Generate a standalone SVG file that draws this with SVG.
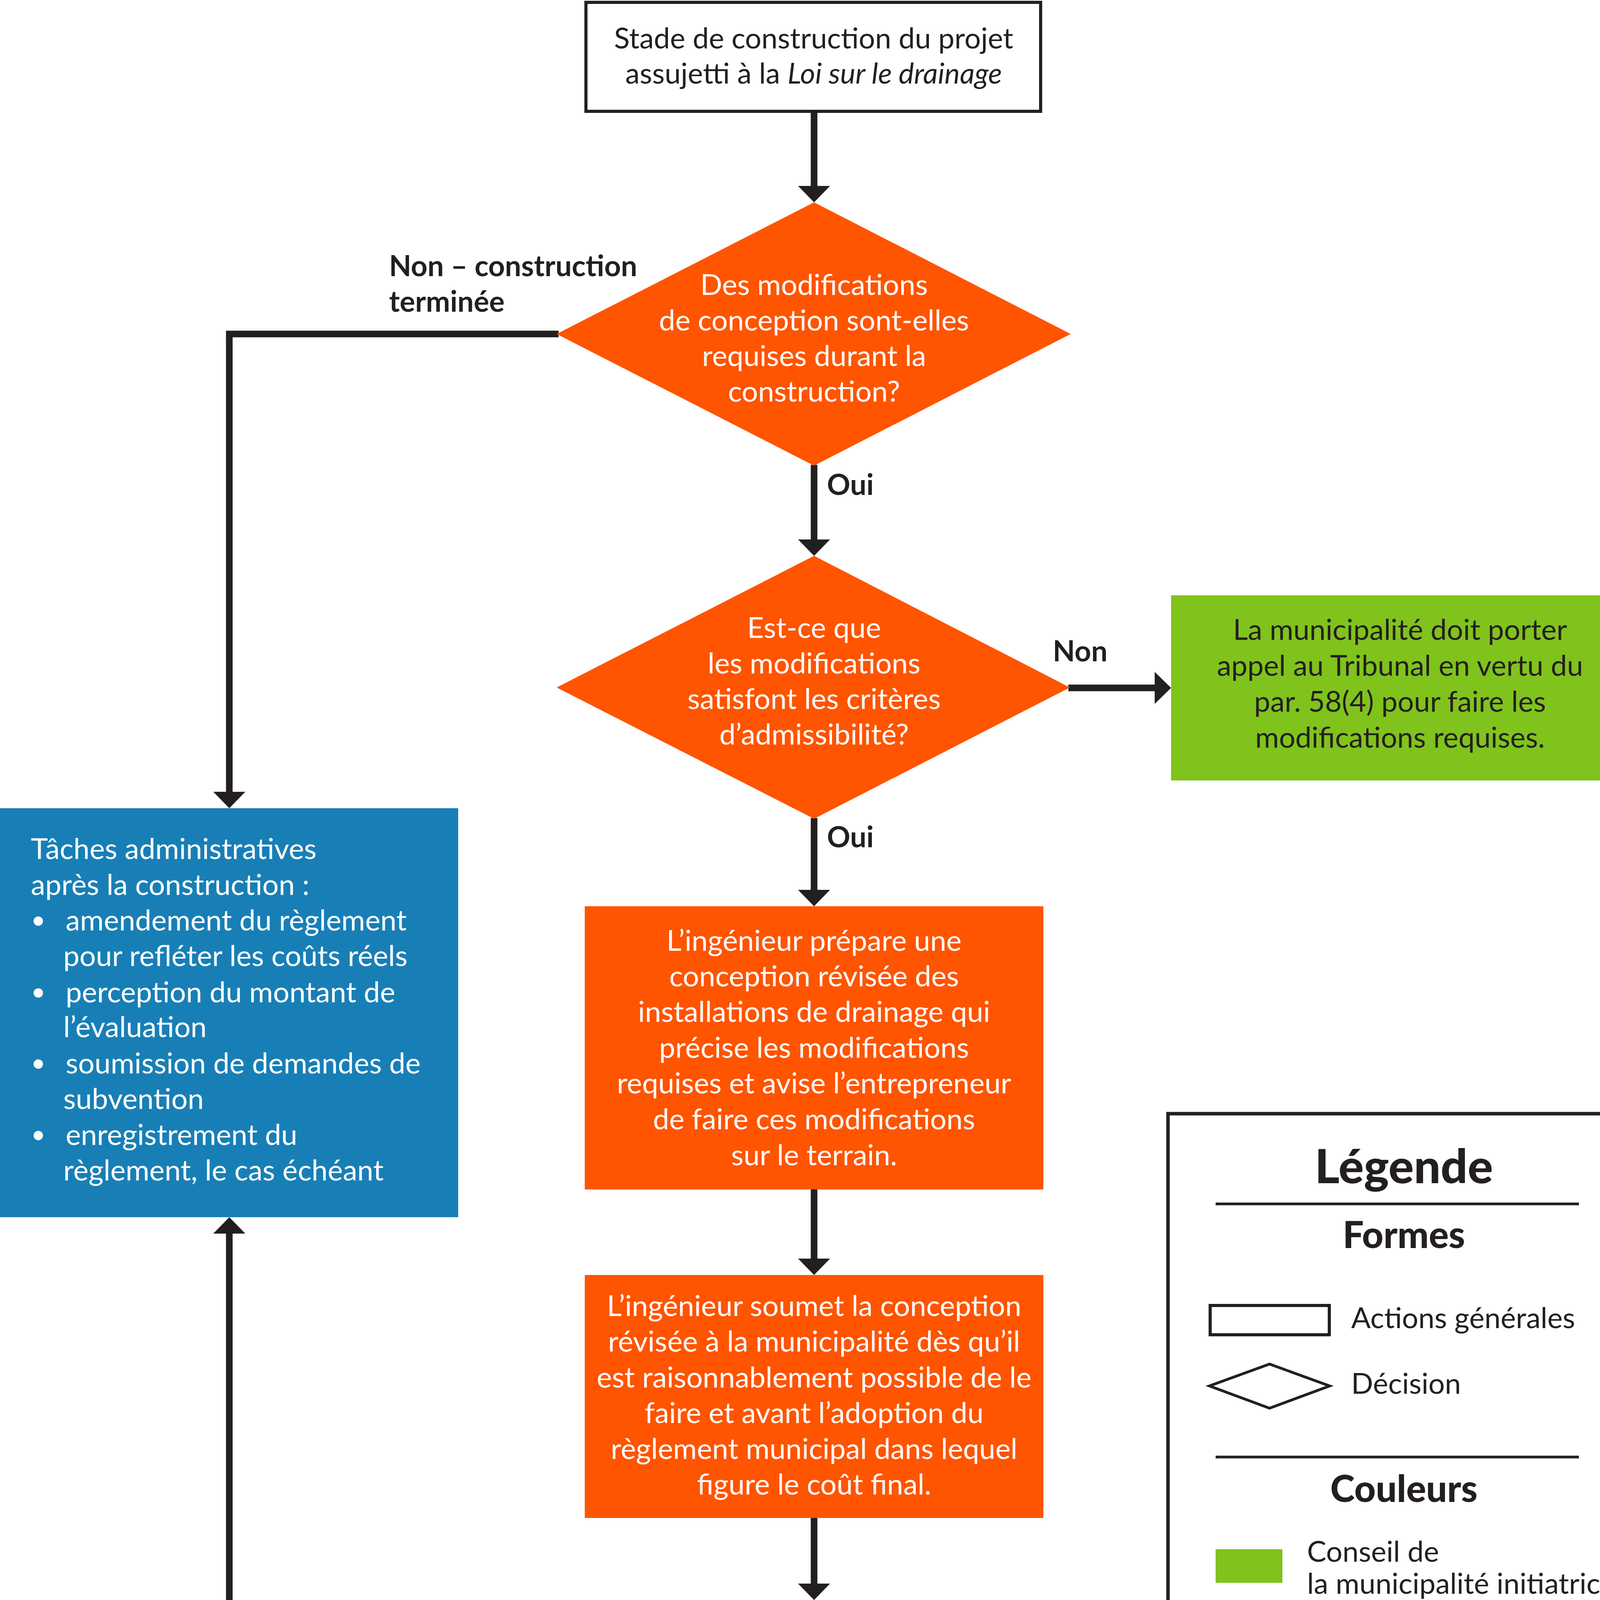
<svg xmlns="http://www.w3.org/2000/svg" width="4200" height="4650" viewBox="0 0 4200 4650">
<defs>
<style>
.t{font-family:Lato,"Open Sans","Liberation Sans",sans-serif;font-size:74px;}
.w{fill:#ffffff;}
.d{fill:#231f20;}
.c{text-anchor:middle;}
.b{font-weight:bold;}
.h1{font-size:121px;font-weight:900;}
.h2{font-size:95px;font-weight:900;}
.conn{fill:none;stroke:#231f20;stroke-width:17;stroke-linejoin:miter;}
.or{fill:#ff5400;}
.gr{fill:#80c31c;}
.bl{fill:#187fb6;}
</style>
<marker id="ah" markerUnits="userSpaceOnUse" markerWidth="42" markerHeight="82" refX="0" refY="41" orient="auto" viewBox="0 0 42 82">
<path d="M0,0 L42,41 L0,82 Z" fill="#231f20"/>
</marker>
</defs>
<rect width="4200" height="4650" fill="#ffffff"/>

<g id="connectors">
<path class="conn" d="M2084,287 V476" marker-end="url(#ah)"/>
<path class="conn" d="M2084,1190 V1381" marker-end="url(#ah)"/>
<path class="conn" d="M1430,855 H587 V2027" marker-end="url(#ah)"/>
<path class="conn" d="M2735,1761 H2956" marker-end="url(#ah)"/>
<path class="conn" d="M2084,2094 V2278" marker-end="url(#ah)"/>
<path class="conn" d="M2084,3045 V3222" marker-end="url(#ah)"/>
<path class="conn" d="M2084,3886 V4054" marker-end="url(#ah)"/>
<path class="conn" d="M1497,4327 H587 V3158" marker-end="url(#ah)"/>
</g>

<g id="label-non-terminee">
<text class="t d b" x="996" y="707">Non – construction</text>
<text class="t d b" x="996" y="798">terminée</text>
</g>
<g id="label-oui-1"><text class="t d b" x="2117" y="1267">Oui</text></g>
<g id="label-non"><text class="t d b" x="2695" y="1693">Non</text></g>
<g id="label-oui-2"><text class="t d b" x="2117" y="2169">Oui</text></g>

<g id="start">
<rect x="1500" y="6" width="1164" height="279" fill="#ffffff" stroke="#231f20" stroke-width="8"/>
<text class="t d c" x="2083" y="124">Stade de construction du projet</text>
<text class="t d c" x="2083" y="214">assujetti à la <tspan font-style="italic">Loi sur le drainage</tspan></text>
</g>

<g id="decision-1">
<polygon class="or" points="2084,518 2741,855 2084,1192 1425,855"/>
<text class="t w c" x="2084" y="755">Des modifications</text>
<text class="t w c" x="2084" y="846">de conception sont-elles</text>
<text class="t w c" x="2084" y="937">requises durant la</text>
<text class="t w c" x="2084" y="1028">construction?</text>
</g>

<g id="decision-2">
<polygon class="or" points="2084,1423 2739,1760 2084,2096 1425,1760"/>
<text class="t w c" x="2084" y="1633">Est-ce que</text>
<text class="t w c" x="2084" y="1724">les modifications</text>
<text class="t w c" x="2084" y="1815">satisfont les critères</text>
<text class="t w c" x="2084" y="1906">d’admissibilité?</text>
</g>

<g id="appeal">
<rect class="gr" x="2998" y="1524" width="1202" height="474"/>
<text class="t d c" x="3584" y="1638">La municipalité doit porter</text>
<text class="t d c" x="3584" y="1730">appel au Tribunal en vertu du</text>
<text class="t d c" x="3584" y="1822">par. 58(4) pour faire les</text>
<text class="t d c" x="3584" y="1914">modifications requises.</text>
</g>

<g id="admin-tasks">
<rect class="bl" x="0" y="2069" width="1173" height="1047"/>
<text class="t w" x="79" y="2199">Tâches administratives</text>
<text class="t w" x="79" y="2291">après la construction :</text>
<circle class="w" cx="98" cy="2358" r="12"/>
<text class="t w" x="168" y="2382">amendement du règlement</text>
<text class="t w" x="162" y="2473">pour refléter les coûts réels</text>
<circle class="w" cx="98" cy="2542" r="12"/>
<text class="t w" x="168" y="2566">perception du montant de</text>
<text class="t w" x="162" y="2655">l’évaluation</text>
<circle class="w" cx="98" cy="2724" r="12"/>
<text class="t w" x="168" y="2748">soumission de demandes de</text>
<text class="t w" x="162" y="2839">subvention</text>
<circle class="w" cx="98" cy="2907" r="12"/>
<text class="t w" x="168" y="2931">enregistrement du</text>
<text class="t w" x="162" y="3022">règlement, le cas échéant</text>
</g>

<g id="revised-design">
<rect class="or" x="1497" y="2320" width="1174" height="725"/>
<text class="t w c" x="2084" y="2434">L’ingénieur prépare une</text>
<text class="t w c" x="2084" y="2525">conception révisée des</text>
<text class="t w c" x="2084" y="2616">installations de drainage qui</text>
<text class="t w c" x="2084" y="2708">précise les modifications</text>
<text class="t w c" x="2084" y="2799">requises et avise l’entrepreneur</text>
<text class="t w c" x="2084" y="2891">de faire ces modifications</text>
<text class="t w c" x="2084" y="2983">sur le terrain.</text>
</g>

<g id="submit-design">
<rect class="or" x="1497" y="3264" width="1174" height="622"/>
<text class="t w c" x="2084" y="3369">L’ingénieur soumet la conception</text>
<text class="t w c" x="2084" y="3460">révisée à la municipalité dès qu’il</text>
<text class="t w c" x="2084" y="3552">est raisonnablement possible de le</text>
<text class="t w c" x="2084" y="3643">faire et avant l’adoption du</text>
<text class="t w c" x="2084" y="3735">règlement municipal dans lequel</text>
<text class="t w c" x="2084" y="3826">figure le coût final.</text>
</g>

<g id="modify-bylaw">
<rect class="gr" x="1497" y="4096" width="1174" height="441"/>
<text class="t d c" x="2084" y="4204">La municipalité modifie le</text>
<text class="t d c" x="2084" y="4295">règlement et le rapport de</text>
<text class="t d c" x="2084" y="4386">l’ingénieur en indiquant les</text>
<text class="t d c" x="2084" y="4478">révisions de la conception.</text>
</g>

<g id="legend">
<rect x="2990" y="2851" width="1205" height="1681" fill="none" stroke="#231f20" stroke-width="9"/>
<text class="t d c h1" x="3594" y="3029">Légende</text>
<line x1="3112" y1="3082" x2="4042" y2="3082" stroke="#231f20" stroke-width="7"/>
<text class="t d c h2" x="3594" y="3195">Formes</text>
<rect x="3098" y="3342" width="305" height="75" fill="#ffffff" stroke="#231f20" stroke-width="8"/>
<text class="t d" x="3459" y="3400">Actions générales</text>
<polygon points="3250,3492 3404,3548 3250,3605 3096,3548" fill="#ffffff" stroke="#231f20" stroke-width="7"/>
<text class="t d" x="3459" y="3568">Décision</text>
<line x1="3112" y1="3730" x2="4042" y2="3730" stroke="#231f20" stroke-width="7"/>
<text class="t d c h2" x="3594" y="3845">Couleurs</text>
<rect class="gr" x="3112" y="3966" width="171" height="86"/>
<text class="t d" x="3346" y="3998">Conseil de</text>
<text class="t d" x="3346" y="4080">la municipalité initiatrice</text>
<rect class="or" x="3112" y="4136" width="171" height="86"/>
<text class="t d" x="3346" y="4202">Ingénieur</text>
<rect class="bl" x="3112" y="4308" width="171" height="86"/>
<text class="t d" x="3346" y="4377">Personnel municipal</text>
</g>
</svg>
